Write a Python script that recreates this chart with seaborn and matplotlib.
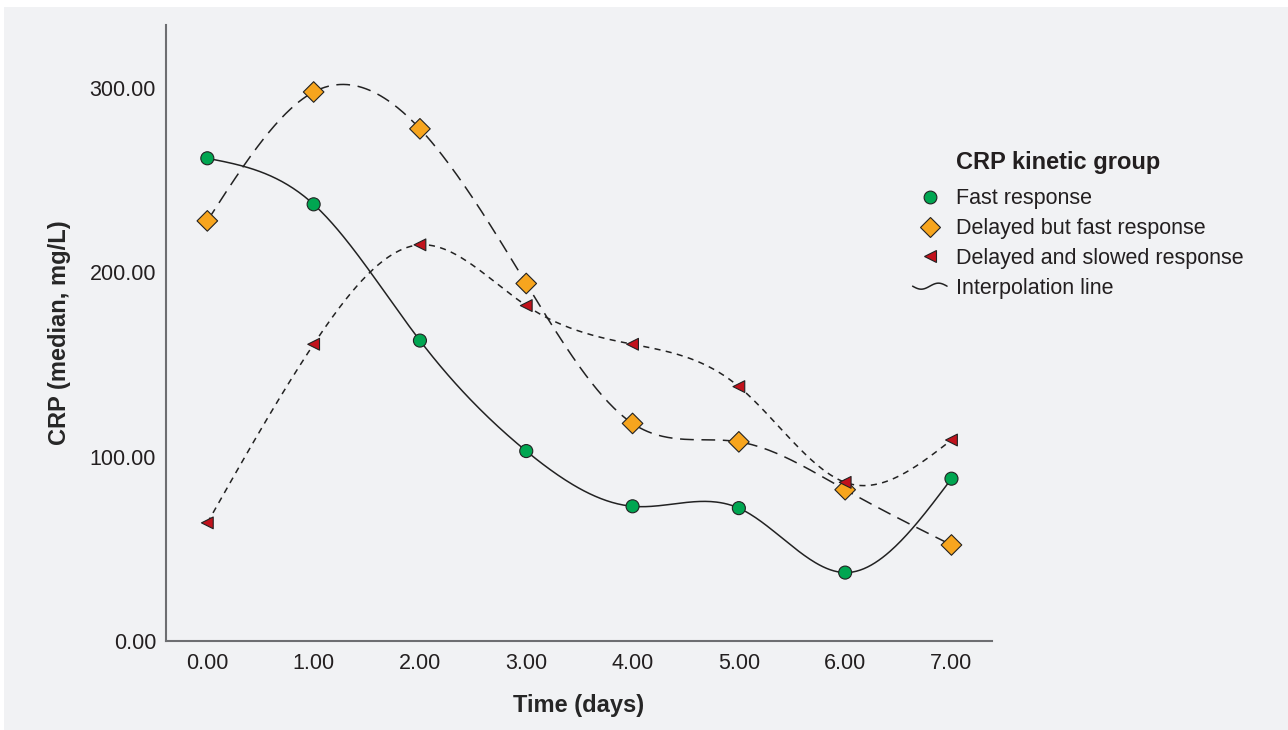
import numpy as np
import pandas as pd
import matplotlib
matplotlib.use('Agg')
import matplotlib.pyplot as plt
import seaborn as sns
from matplotlib.lines import Line2D
from matplotlib.legend_handler import HandlerBase
from matplotlib.ticker import FormatStrFormatter
from matplotlib.patches import Rectangle

# valores
dias = [0, 1, 2, 3, 4, 5, 6, 7]
fast = [262, 237, 163, 103, 73, 72, 37, 88]
delayed_fast = [228, 298, 278, 194, 118, 108, 82, 52]
delayed_slow = [64, 161, 215, 182, 161, 138, 86, 109]
grupos = ['Fast response', 'Delayed but fast response', 'Delayed and slowed response']

verde = '#00a651'
laranja = '#f7a51e'
vermelho = '#c1121c'
cinza_fundo = '#f1f2f4'
texto = '#231f20'


def spline_natural(x, y, n=400):
    # spline cúbica natural (segunda derivada zero nas pontas)
    x = np.asarray(x, float)
    y = np.asarray(y, float)
    h = np.diff(x)
    k = len(x)
    A = np.zeros((k, k))
    b = np.zeros(k)
    A[0, 0] = 1
    A[-1, -1] = 1
    for i in range(1, k - 1):
        A[i, i - 1] = h[i - 1]
        A[i, i] = 2 * (h[i - 1] + h[i])
        A[i, i + 1] = h[i]
        b[i] = 6 * ((y[i + 1] - y[i]) / h[i] - (y[i] - y[i - 1]) / h[i - 1])
    M = np.linalg.solve(A, b)
    xs = np.linspace(x[0], x[-1], n)
    idx = np.clip(np.searchsorted(x, xs) - 1, 0, k - 2)
    x0, x1 = x[idx], x[idx + 1]
    hh = x1 - x0
    ys = (M[idx] * (x1 - xs) ** 3 / (6 * hh) + M[idx + 1] * (xs - x0) ** 3 / (6 * hh)
          + (y[idx] / hh - M[idx] * hh / 6) * (x1 - xs)
          + (y[idx + 1] / hh - M[idx + 1] * hh / 6) * (xs - x0))
    return xs, ys


class HandlerOnda(HandlerBase):
    # linha ondulada na legenda
    def create_artists(self, legend, orig_handle, xdescent, ydescent, width, height, fontsize, trans):
        t = np.linspace(0, 1, 50)
        xs = -xdescent + t * width
        ys = -ydescent + height / 2 - 0.2 * height * np.sin(2 * np.pi * t)
        ln = Line2D(xs, ys, color='#222222', lw=1.1, transform=trans)
        return [ln]


df = pd.DataFrame({
    'dia': dias * 3,
    'crp': fast + delayed_fast + delayed_slow,
    'grupo': [grupos[0]] * 8 + [grupos[1]] * 8 + [grupos[2]] * 8,
})

sns.set_style('white')
plt.rcParams['font.family'] = ['Liberation Sans', 'DejaVu Sans']
plt.rcParams['text.color'] = texto

fig = plt.figure(figsize=(12.88, 7.30), dpi=100)
fig.patch.set_facecolor('white')
fig.patches.append(Rectangle((4 / 1288, 0), 1, 723 / 730, transform=fig.transFigure,
                             facecolor=cinza_fundo, edgecolor='none', zorder=-10))
ax = fig.add_axes([0.1287, 0.1223, 0.770 - 0.1287, 0.9658 - 0.1223])
ax.set_facecolor(cinza_fundo)

# linhas de interpolação
for serie, estilo in [(fast, '-'), (delayed_fast, (0, (9, 5))), (delayed_slow, (0, (4, 3.5)))]:
    xs, ys = spline_natural(dias, serie)
    ax.plot(xs, ys, color='#222222', lw=1.1, ls=estilo, zorder=2)

sns.scatterplot(data=df, x='dia', y='crp', hue='grupo', style='grupo',
                hue_order=grupos, style_order=grupos,
                palette={grupos[0]: verde, grupos[1]: laranja, grupos[2]: vermelho},
                markers={grupos[0]: 'o', grupos[1]: 'D', grupos[2]: '<'},
                size='grupo', sizes={grupos[0]: 88, grupos[1]: 110, grupos[2]: 72},
                edgecolor='#222222', linewidth=0.8, zorder=3, legend=False, ax=ax)

ax.set_xlim(-0.391, 7.379)
ax.set_ylim(0, 334.4)
ax.set_xticks(dias)
ax.set_yticks([0, 100, 200, 300])
ax.xaxis.set_major_formatter(FormatStrFormatter('%.2f'))
ax.yaxis.set_major_formatter(FormatStrFormatter('%.2f'))
ax.tick_params(length=0, labelsize=15.5, labelcolor=texto)
ax.tick_params(axis='x', pad=9)
ax.tick_params(axis='y', pad=7)
for lado in ['top', 'right']:
    ax.spines[lado].set_visible(False)
for lado in ['left', 'bottom']:
    ax.spines[lado].set_color('#6d6e71')
    ax.spines[lado].set_linewidth(1.5)

ax.set_xlabel('Time (days)', fontsize=17, fontweight='bold', labelpad=14)
ax.set_ylabel('CRP (median, mg/L)', fontsize=17, fontweight='bold', labelpad=13)

handles = [
    Line2D([], [], ls='none', marker='o', markersize=9.2, markerfacecolor=verde, markeredgecolor='#222222', markeredgewidth=0.8),
    Line2D([], [], ls='none', marker='D', markersize=10.5, markerfacecolor=laranja, markeredgecolor='#222222', markeredgewidth=0.8),
    Line2D([], [], ls='none', marker='<', markersize=8.5, markerfacecolor=vermelho, markeredgecolor='#222222', markeredgewidth=0.8),
    Line2D([], [], color='#222222'),
]
labels = grupos + ['Interpolation line']
leg = ax.legend(handles, labels, loc='upper left',
                bbox_to_anchor=(0.6935, 0.7687), bbox_transform=fig.transFigure,
                frameon=False, fontsize=15.5,
                handler_map={handles[3]: HandlerOnda()},
                handlelength=1.6, handletextpad=0.41, labelspacing=0.41)
for t in leg.get_texts():
    t.set_color(texto)

fig.text(956 / 1288, 1 - 163 / 730, 'CRP kinetic group', fontsize=17, fontweight='bold',
         ha='left', va='center', color=texto)

fig.savefig('out.png', dpi=100, facecolor=fig.get_facecolor())
